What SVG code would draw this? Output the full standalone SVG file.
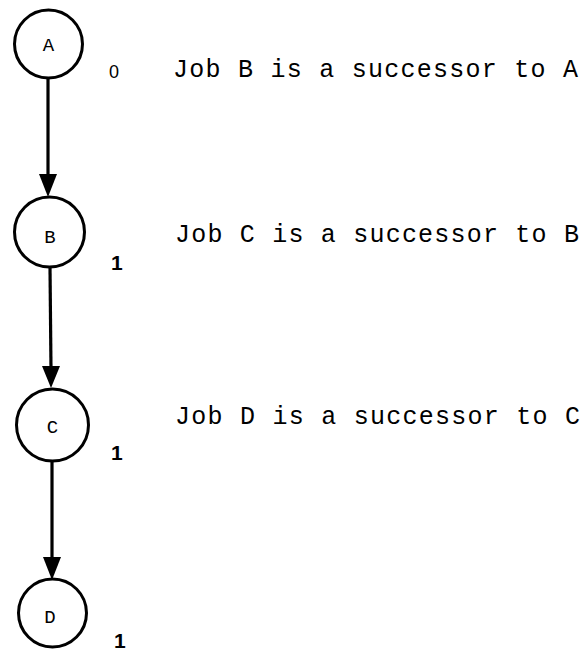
<svg xmlns="http://www.w3.org/2000/svg" width="587" height="651" viewBox="0 0 587 651">
<style>
.node{fill:none;stroke:#000;stroke-width:3}
.lbl{font-family:"Liberation Mono","Courier New",monospace;font-size:19px;fill:#000;text-anchor:middle}
.edge{stroke:#000;stroke-width:3.2;fill:none}
.head{fill:#000;stroke:none}
.txt{font-family:"Liberation Mono","Courier New",monospace;font-size:25px;fill:#000}
.num{font-family:"Liberation Sans",Arial,sans-serif;font-size:21px;font-weight:bold;fill:#000}
.zero{font-family:"Liberation Sans",Arial,sans-serif;font-size:18px;fill:#000}
</style>
<rect width="587" height="651" fill="#fff"/>
<g id="connectors">
  <line class="edge" x1="48" y1="78" x2="48" y2="178"/>
  <polygon class="head" points="39,174 57,174 48,197"/>
  <line class="edge" x1="50" y1="267" x2="51" y2="370"/>
  <polygon class="head" points="42,366 60,366 51,388"/>
  <line class="edge" x1="52" y1="462" x2="52" y2="560"/>
  <polygon class="head" points="43,557 61,557 52,580"/>
</g>
<g id="node-A">
  <circle class="node" cx="48.5" cy="44" r="34"/>
  <text class="lbl" x="48.5" y="51">A</text>
</g>
<g id="node-B">
  <circle class="node" cx="49.5" cy="232" r="35"/>
  <text class="lbl" x="50" y="243">B</text>
</g>
<g id="node-C">
  <circle class="node" cx="52.5" cy="425" r="36"/>
  <text class="lbl" x="52.5" y="433">C</text>
</g>
<g id="node-D">
  <circle class="node" cx="52.5" cy="613" r="34"/>
  <text class="lbl" x="50" y="623">D</text>
</g>
<g id="labels">
  <text class="zero" x="109" y="78">0</text>
  <text class="num" x="111" y="270">1</text>
  <text class="num" x="111" y="460">1</text>
  <text class="num" x="114" y="648">1</text>
  <text class="txt" x="173" y="77" textLength="405" lengthAdjust="spacing">Job B is a successor to A</text>
  <text class="txt" x="175" y="242" textLength="404" lengthAdjust="spacing">Job C is a successor to B</text>
  <text class="txt" x="175" y="424" textLength="405" lengthAdjust="spacing">Job D is a successor to C</text>
</g>
</svg>
